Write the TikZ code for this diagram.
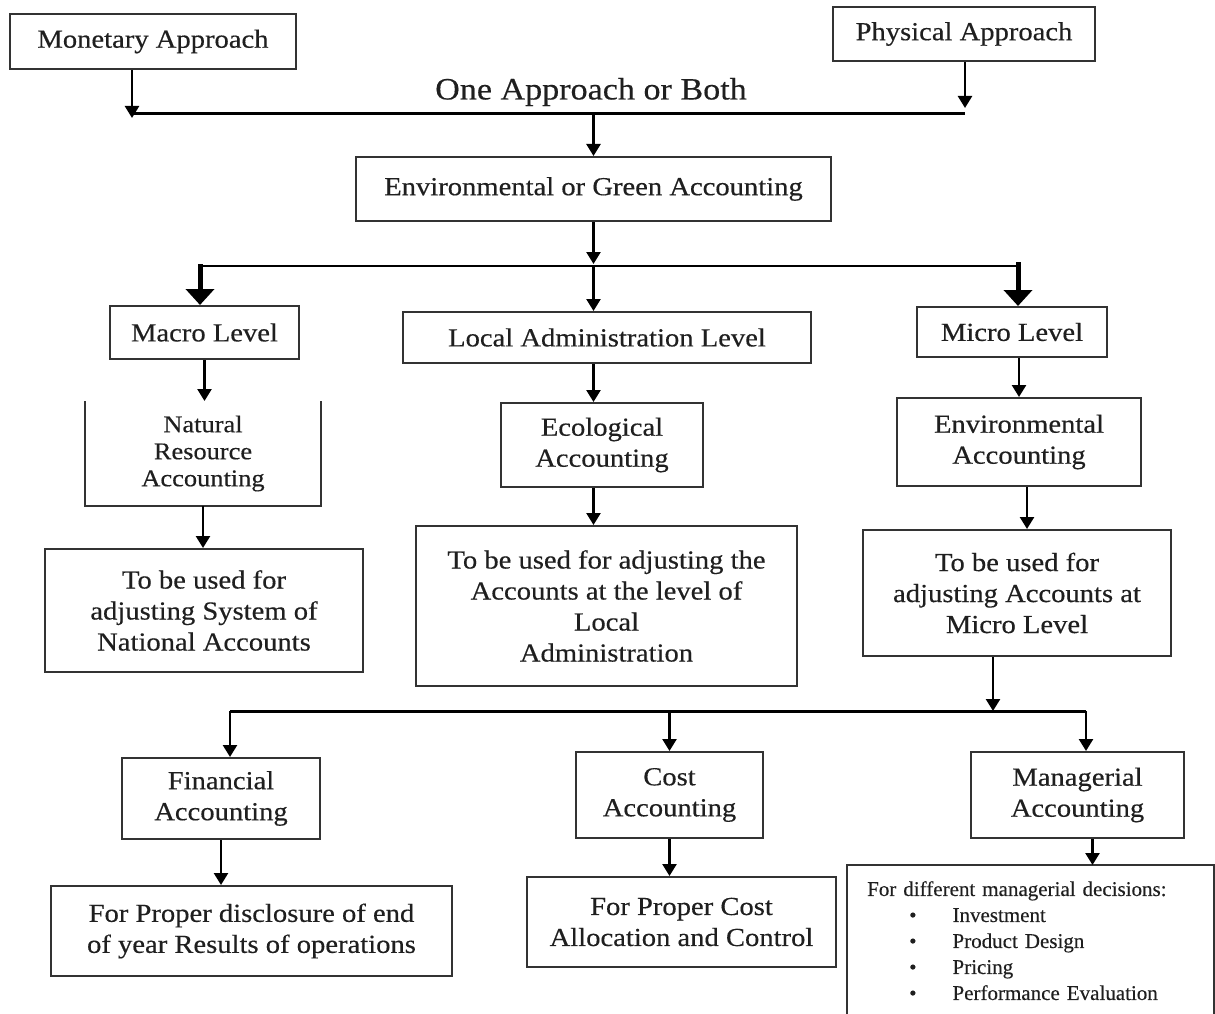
\documentclass[tikz,border=0pt]{standalone}
\usepackage{fontspec}
\setmainfont{Liberation Serif}[FakeStretch=1.1, FakeBold=0.4]
\newfontfamily\listfont{Liberation Serif}[FakeBold=0.3]
\usetikzlibrary{arrows.meta, positioning}

\tikzset{
  box/.style={draw=black!80, line width=2pt, align=center, text=black!88,
    inner sep=0pt, font=\fontsize{26}{31}\selectfont},
  boxline/.style={draw=black!80, line width=2pt},
  listbox/.style={align=left, text=black!88, inner xsep=20pt, inner ysep=16pt,
    text width=327pt, font=\listfont\fontsize{21}{26}\selectfont},
  link/.style={->, line width=2.5pt},
  biglink/.style={line width=5pt, -{Triangle[width=28pt,length=16pt]}},
  bus/.style={line width=3pt},
}
\newcommand\decitem[1]{\\\hspace*{42pt}\textbullet\hspace*{36pt}#1}

\begin{document}
\begin{tikzpicture}[x=1pt, y=-1pt, >={Triangle[width=14pt,length=12pt]}]
  \useasboundingbox (0,0) rectangle (1215,1014);

  \node[box, minimum width=286pt, minimum height=55pt] (monetary) at (153,41.5) {Monetary Approach};
  \node[box, minimum width=262pt, minimum height=54pt] (physical) at (964,34) {Physical Approach};
  \node[text=black!88, font=\fontsize{31}{36}\selectfont] (both) at (591,92) {One Approach or Both};
  \node[box, minimum width=475pt, minimum height=64pt] (env) at (593.5,189) {Environmental or Green Accounting};

  \node[box, minimum width=189pt, minimum height=53pt] (macro) at (204.5,332.5) {Macro Level};
  \node[box, minimum width=408pt, minimum height=51pt] (local) at (607,337.5) {Local Administration Level};
  \node[box, minimum width=190pt, minimum height=50pt] (micro) at (1012,332) {Micro Level};

  \node[box, draw=none, font=\fontsize{24}{27}\selectfont, minimum width=234pt, minimum height=103pt] (natres) at (203,453.5) {Natural\\Resource\\Accounting};
  \node[box, minimum width=202pt, minimum height=84pt] (eco) at (602,445) {Ecological\\Accounting};
  \node[box, minimum width=244pt, minimum height=88pt] (envacc) at (1019,442) {Environmental\\Accounting};

  \node[box, minimum width=318pt, minimum height=123pt] (usemacro) at (204,610.5) {To be used for\\adjusting System of\\National Accounts};
  \node[box, minimum width=381pt, minimum height=160pt] (uselocal) at (606.5,606) {To be used for adjusting the\\Accounts at the level of\\Local\\Administration};
  \node[box, minimum width=308pt, minimum height=126pt] (usemicro) at (1017,593) {To be used for\\adjusting Accounts at\\Micro Level};

  \node[box, minimum width=198pt, minimum height=81pt] (fin) at (221,798.5) {Financial\\Accounting};
  \node[box, minimum width=187pt, minimum height=86pt] (cost) at (669.5,795) {Cost\\Accounting};
  \node[box, minimum width=213pt, minimum height=86pt] (manag) at (1077.5,795) {Managerial\\Accounting};

  \node[box, minimum width=401pt, minimum height=90pt] (finuse) at (251.5,931) {For Proper disclosure of end\\of year Results of operations};
  \node[box, minimum width=309pt, minimum height=90pt] (costuse) at (681.5,922) {For Proper Cost\\Allocation and Control};
  \node[listbox, anchor=north west] (manuse) at (847,865)
    {For different managerial decisions:\decitem{Investment}\decitem{Product Design}\decitem{Pricing}\decitem{Performance Evaluation}};

  \draw[boxline] (natres.north west) -- (natres.south west) -- (natres.south east) -- (natres.north east);
  \draw[boxline] (manuse.north west) ++(0,180) -- (manuse.north west) -- (manuse.north east) -- ++(0,180);

  \coordinate (topw) at (132,114);
  \coordinate (tope) at (965,114);
  \draw[bus] (topw) -- (tope);
  \draw[link] (monetary.south -| topw) -- ([yshift=-4pt]topw);
  \draw[link] (physical.south -| tope) -- ([yshift=6pt]tope);
  \draw[link] (topw -| env) -- (env.north);

  \coordinate (midw) at (200,266);
  \coordinate (mide) at (1018,266);
  \draw[link] (env.south) -- ([yshift=2pt]env.south |- midw);
  \draw[line width=2.5pt] (midw) -- (mide);
  \draw[biglink] ([yshift=2pt]midw) -- (midw |- macro.north);
  \draw[biglink] ([yshift=4pt]mide) -- (mide |- micro.north);
  \draw[link] (midw -| env) -- (local.north -| env);

  \draw[link] (macro.south) -- (macro.south |- natres.north);
  \draw[link] (local.south -| env) -- (eco.north -| env);
  \draw[link] (micro.south -| envacc) -- (envacc.north);
  \draw[link] (natres.south) -- (natres.south |- usemacro.north);
  \draw[link] (eco.south -| env) -- (uselocal.north -| env);
  \draw[link] ([xshift=8pt]envacc.south) -- ([xshift=8pt]envacc.south |- usemicro.north);

  \coordinate (botw) at (230,711);
  \coordinate (bote) at (1086,711);
  \draw[link] ([xshift=-24pt]usemicro.south) -- ([xshift=-24pt]usemicro.south |- bote);
  \draw[bus] (botw) -- (bote);
  \draw[link] (botw) -- (botw |- fin.north);
  \draw[link] (botw -| cost) -- (cost.north);
  \draw[link] (bote) -- (bote |- manag.north);
  \draw[link] (fin.south) -- (fin.south |- finuse.north);
  \draw[link] (cost.south) -- (cost.south |- costuse.north);
  \draw[link] ([xshift=15pt]manag.south) -- ([xshift=15pt]manag.south |- manuse.north);
\end{tikzpicture}
\end{document}
